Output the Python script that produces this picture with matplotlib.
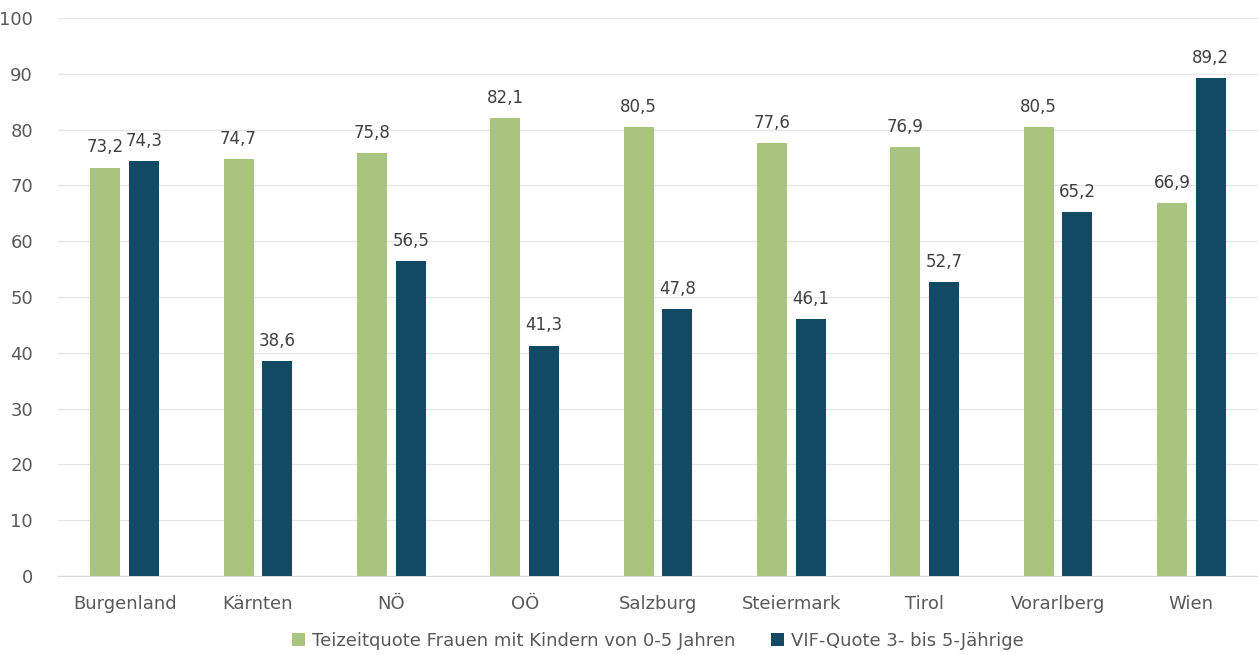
import matplotlib
matplotlib.use("Agg")
import matplotlib.pyplot as plt
import numpy as np

categories = ["Burgenland", "Kärnten", "NÖ", "OÖ", "Salzburg", "Steiermark", "Tirol", "Vorarlberg", "Wien"]
teilzeit = [73.2, 74.7, 75.8, 82.1, 80.5, 77.6, 76.9, 80.5, 66.9]
vif = [74.3, 38.6, 56.5, 41.3, 47.8, 46.1, 52.7, 65.2, 89.2]
series_names = ["Teizeitquote Frauen mit Kindern von 0-5 Jahren", "VIF-Quote 3- bis 5-Jährige"]
yticks = list(range(0, 101, 10))

green = "#a9c47f"
dark = "#134a63"
txt = "#595959"

plt.rcParams['font.family'] = ['DejaVu Sans']
fig = plt.figure(figsize=(12.58, 6.55), dpi=100)
ax = fig.add_axes([58/1258, 1 - 576/655, 1200/1258, (576-18)/655])

x = np.arange(len(categories))
w = 0.225
off = 0.146
b1 = ax.bar(x - off, teilzeit, w, color=green, label=series_names[0], zorder=3)
b2 = ax.bar(x + off, vif, w, color=dark, label=series_names[1], zorder=3)

def fmt(v):
    return f"{v:.1f}".replace(".", ",")

for bars, vals in ((b1, teilzeit), (b2, vif)):
    for r, v in zip(bars, vals):
        ax.annotate(fmt(v), (r.get_x() + r.get_width()/2, v), xytext=(0, 8),
                    textcoords="offset points", ha="center", va="bottom",
                    fontsize=12, color="#404040")

ax.set_xlim(-0.5, len(categories) - 0.5)
ax.set_ylim(0, 100)
ax.set_yticks(yticks)
ax.set_yticklabels([str(t) for t in yticks], fontsize=13, color=txt)
ax.set_xticks(x)
ax.set_xticklabels(categories, fontsize=13, color=txt)
ax.tick_params(axis='both', length=0)
ax.tick_params(axis='y', pad=18)
ax.tick_params(axis='x', pad=14)
ax.grid(axis='y', color="#e6e6e6", linewidth=1, zorder=0)
for s in ["top", "right", "left"]:
    ax.spines[s].set_visible(False)
ax.spines["bottom"].set_color("#d9d9d9")

ax.legend(loc="center", bbox_to_anchor=(0.5, -65/558), ncol=2, frameon=False,
          fontsize=13, labelcolor=txt, handlelength=0.7, handleheight=0.7,
          handletextpad=0.4, columnspacing=2.0)

fig.savefig("out.png", dpi=100)
